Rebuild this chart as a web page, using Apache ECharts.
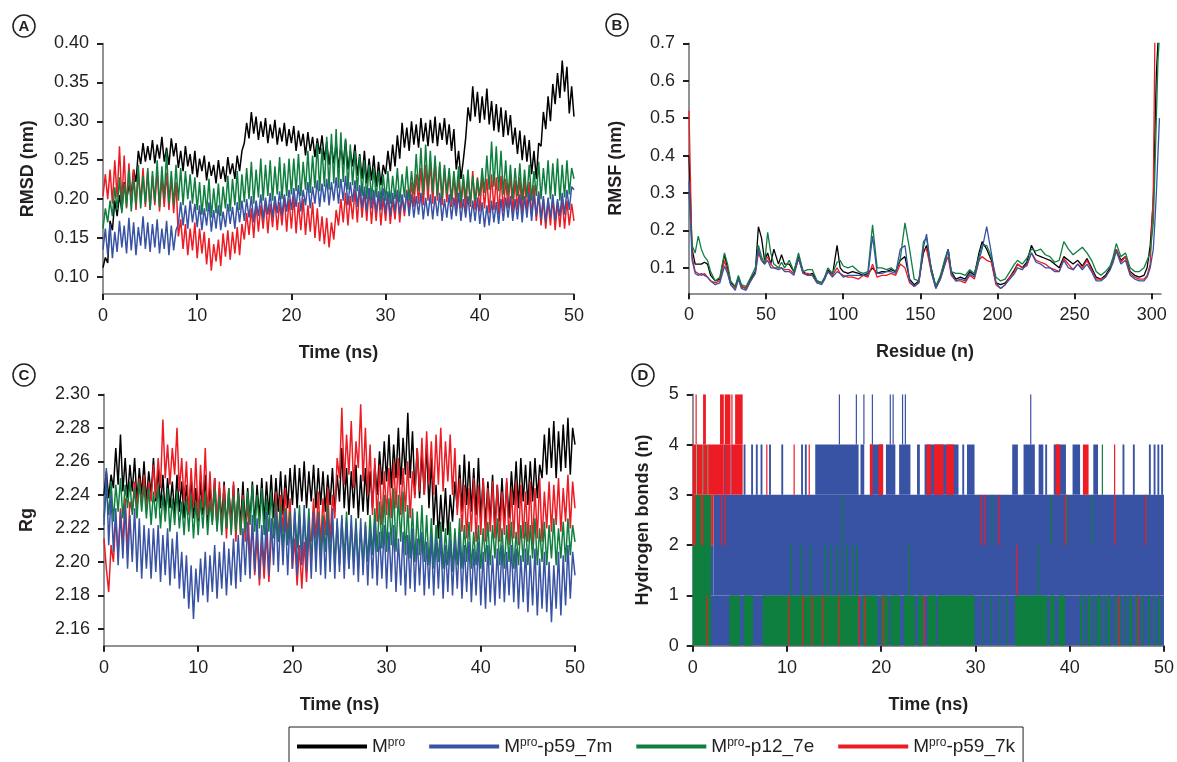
<!DOCTYPE html>
<html>
<head>
<meta charset="utf-8">
<title>Mpro MD analysis</title>
<script src="https://cdn.jsdelivr.net/npm/echarts@6.0.0/dist/echarts.min.js"></script>
<style>
  html, body { margin: 0; padding: 0; background: #fff; }
  #chart { width: 1177px; height: 762px; }
</style>
</head>
<body>
<div id="chart"></div>
<script>
// series names and colours
const names = ['Mpro', 'Mpro-p59_7m', 'Mpro-p12_7e', 'Mpro-p59_7k'];
const colors = ['#000000', '#3953a4', '#0f7f3f', '#ed1c24'];

// tick labels
const timeTicks = [0, 10, 20, 30, 40, 50];
const rmsdTicks = [0.10, 0.15, 0.20, 0.25, 0.30, 0.35, 0.40];
const rmsfTicks = [0.1, 0.2, 0.3, 0.4, 0.5, 0.6, 0.7];
const residueTicks = [0, 50, 100, 150, 200, 250, 300];
const rgTicks = [2.16, 2.18, 2.20, 2.22, 2.24, 2.26, 2.28, 2.30];
const hbTicks = [0, 1, 2, 3, 4, 5];

// sample times (ns) for RMSD and Rg
const timeNs = [
  0, 0.25, 0.5, 0.75, 1, 1.25, 1.5, 1.75, 2, 2.25, 2.5, 2.75, 3, 3.25, 3.5, 3.75, 4, 4.25, 4.5, 4.75,
  5, 5.25, 5.5, 5.75, 6, 6.25, 6.5, 6.75, 7, 7.25, 7.5, 7.75, 8, 8.25, 8.5, 8.75, 9, 9.25, 9.5, 9.75,
  10, 10.25, 10.5, 10.75, 11, 11.25, 11.5, 11.75, 12, 12.25, 12.5, 12.75, 13, 13.25, 13.5, 13.75, 14, 14.25, 14.5, 14.75,
  15, 15.25, 15.5, 15.75, 16, 16.25, 16.5, 16.75, 17, 17.25, 17.5, 17.75, 18, 18.25, 18.5, 18.75, 19, 19.25, 19.5, 19.75,
  20, 20.25, 20.5, 20.75, 21, 21.25, 21.5, 21.75, 22, 22.25, 22.5, 22.75, 23, 23.25, 23.5, 23.75, 24, 24.25, 24.5, 24.75,
  25, 25.25, 25.5, 25.75, 26, 26.25, 26.5, 26.75, 27, 27.25, 27.5, 27.75, 28, 28.25, 28.5, 28.75, 29, 29.25, 29.5, 29.75,
  30, 30.25, 30.5, 30.75, 31, 31.25, 31.5, 31.75, 32, 32.25, 32.5, 32.75, 33, 33.25, 33.5, 33.75, 34, 34.25, 34.5, 34.75,
  35, 35.25, 35.5, 35.75, 36, 36.25, 36.5, 36.75, 37, 37.25, 37.5, 37.75, 38, 38.25, 38.5, 38.75, 39, 39.25, 39.5, 39.75,
  40, 40.25, 40.5, 40.75, 41, 41.25, 41.5, 41.75, 42, 42.25, 42.5, 42.75, 43, 43.25, 43.5, 43.75, 44, 44.25, 44.5, 44.75,
  45, 45.25, 45.5, 45.75, 46, 46.25, 46.5, 46.75, 47, 47.25, 47.5, 47.75, 48, 48.25, 48.5, 48.75, 49, 49.25, 49.5, 49.75,
  50
];

// (A) RMSD, nm
const rmsdMpro = [
  0.112, 0.125, 0.118, 0.172, 0.160, 0.198, 0.178, 0.205, 0.185, 0.222, 0.198, 0.218, 0.205, 0.238, 0.222, 0.262, 0.245, 0.272, 0.248, 0.268,
  0.250, 0.276, 0.246, 0.270, 0.252, 0.280, 0.248, 0.266, 0.244, 0.278, 0.255, 0.272, 0.240, 0.262, 0.236, 0.268, 0.242, 0.258, 0.232, 0.262,
  0.228, 0.252, 0.236, 0.256, 0.224, 0.248, 0.230, 0.244, 0.220, 0.250, 0.226, 0.242, 0.222, 0.254, 0.232, 0.246, 0.226, 0.256, 0.236, 0.262,
  0.272, 0.298, 0.278, 0.312, 0.284, 0.306, 0.276, 0.300, 0.280, 0.304, 0.272, 0.296, 0.278, 0.302, 0.270, 0.292, 0.274, 0.298, 0.268, 0.290,
  0.272, 0.294, 0.262, 0.288, 0.268, 0.284, 0.256, 0.286, 0.262, 0.280, 0.254, 0.278, 0.258, 0.282, 0.250, 0.274, 0.244, 0.270, 0.246, 0.272,
  0.240, 0.268, 0.244, 0.276, 0.238, 0.262, 0.242, 0.270, 0.230, 0.258, 0.226, 0.262, 0.220, 0.252, 0.224, 0.256, 0.216, 0.248, 0.218, 0.244,
  0.232, 0.262, 0.236, 0.270, 0.242, 0.282, 0.252, 0.298, 0.266, 0.292, 0.262, 0.300, 0.270, 0.296, 0.266, 0.304, 0.274, 0.298, 0.268, 0.302,
  0.272, 0.306, 0.268, 0.298, 0.276, 0.304, 0.270, 0.296, 0.262, 0.290, 0.238, 0.262, 0.226, 0.250, 0.278, 0.318, 0.300, 0.345, 0.306, 0.338,
  0.298, 0.332, 0.302, 0.342, 0.296, 0.326, 0.288, 0.322, 0.286, 0.318, 0.280, 0.314, 0.282, 0.308, 0.270, 0.292, 0.258, 0.288, 0.250, 0.282,
  0.248, 0.276, 0.232, 0.262, 0.226, 0.272, 0.268, 0.312, 0.290, 0.332, 0.300, 0.348, 0.322, 0.362, 0.330, 0.378, 0.338, 0.370, 0.310, 0.345,
  0.306
];
const rmsdP59m = [
  0.135, 0.162, 0.128, 0.168, 0.124, 0.158, 0.132, 0.172, 0.138, 0.166, 0.130, 0.176, 0.134, 0.170, 0.128, 0.164, 0.140, 0.178, 0.136, 0.170,
  0.132, 0.168, 0.138, 0.174, 0.130, 0.162, 0.136, 0.172, 0.128, 0.166, 0.134, 0.160, 0.168, 0.196, 0.166, 0.192, 0.162, 0.198, 0.170, 0.194,
  0.164, 0.192, 0.160, 0.188, 0.166, 0.196, 0.158, 0.186, 0.162, 0.192, 0.160, 0.184, 0.164, 0.194, 0.168, 0.190, 0.162, 0.196, 0.170, 0.198,
  0.172, 0.200, 0.176, 0.204, 0.170, 0.198, 0.178, 0.206, 0.174, 0.202, 0.180, 0.208, 0.176, 0.204, 0.182, 0.210, 0.178, 0.206, 0.184, 0.212,
  0.186, 0.214, 0.190, 0.218, 0.184, 0.212, 0.192, 0.222, 0.188, 0.216, 0.194, 0.224, 0.190, 0.220, 0.196, 0.226, 0.192, 0.222, 0.198, 0.228,
  0.194, 0.226, 0.198, 0.230, 0.192, 0.222, 0.196, 0.224, 0.190, 0.218, 0.188, 0.216, 0.184, 0.214, 0.188, 0.212, 0.182, 0.210, 0.186, 0.214,
  0.182, 0.210, 0.178, 0.208, 0.184, 0.212, 0.180, 0.206, 0.184, 0.210, 0.178, 0.206, 0.176, 0.204, 0.180, 0.208, 0.174, 0.202, 0.178, 0.206,
  0.174, 0.204, 0.178, 0.208, 0.172, 0.200, 0.176, 0.206, 0.174, 0.202, 0.178, 0.208, 0.172, 0.200, 0.176, 0.204, 0.170, 0.198, 0.172, 0.202,
  0.168, 0.196, 0.164, 0.192, 0.166, 0.198, 0.170, 0.196, 0.168, 0.200, 0.172, 0.202, 0.176, 0.204, 0.172, 0.200, 0.174, 0.206, 0.170, 0.204,
  0.176, 0.208, 0.172, 0.206, 0.178, 0.210, 0.174, 0.204, 0.170, 0.202, 0.176, 0.206, 0.172, 0.200, 0.178, 0.208, 0.180, 0.212, 0.186, 0.216,
  0.212
];
const rmsdP12e = [
  0.162, 0.188, 0.170, 0.198, 0.178, 0.215, 0.186, 0.228, 0.182, 0.220, 0.190, 0.238, 0.184, 0.226, 0.192, 0.244, 0.188, 0.230, 0.194, 0.240,
  0.186, 0.236, 0.196, 0.250, 0.190, 0.242, 0.200, 0.262, 0.194, 0.236, 0.192, 0.244, 0.198, 0.240, 0.192, 0.236, 0.200, 0.232, 0.194, 0.228,
  0.186, 0.222, 0.180, 0.218, 0.184, 0.226, 0.176, 0.214, 0.182, 0.220, 0.178, 0.216, 0.188, 0.230, 0.184, 0.226, 0.192, 0.236, 0.186, 0.232,
  0.196, 0.240, 0.200, 0.248, 0.194, 0.238, 0.202, 0.252, 0.198, 0.244, 0.204, 0.250, 0.198, 0.242, 0.206, 0.254, 0.200, 0.246, 0.204, 0.252,
  0.206, 0.252, 0.210, 0.258, 0.204, 0.248, 0.212, 0.262, 0.208, 0.256, 0.214, 0.272, 0.210, 0.266, 0.216, 0.280, 0.212, 0.284, 0.220, 0.290,
  0.214, 0.286, 0.222, 0.278, 0.212, 0.270, 0.218, 0.262, 0.210, 0.256, 0.204, 0.250, 0.200, 0.244, 0.198, 0.240, 0.202, 0.236, 0.196, 0.232,
  0.198, 0.236, 0.194, 0.230, 0.200, 0.240, 0.196, 0.232, 0.202, 0.242, 0.198, 0.236, 0.206, 0.258, 0.210, 0.266, 0.206, 0.270, 0.212, 0.262,
  0.208, 0.256, 0.204, 0.248, 0.200, 0.244, 0.206, 0.240, 0.198, 0.236, 0.202, 0.242, 0.196, 0.232, 0.200, 0.238, 0.194, 0.230, 0.198, 0.226,
  0.204, 0.240, 0.208, 0.256, 0.212, 0.274, 0.216, 0.268, 0.210, 0.262, 0.206, 0.250, 0.204, 0.244, 0.200, 0.240, 0.204, 0.246, 0.198, 0.238,
  0.202, 0.244, 0.198, 0.236, 0.204, 0.248, 0.200, 0.240, 0.206, 0.250, 0.200, 0.246, 0.204, 0.252, 0.198, 0.244, 0.202, 0.250, 0.206, 0.240,
  0.226
];
const rmsdP59k = [
  0.204, 0.232, 0.200, 0.238, 0.194, 0.250, 0.202, 0.268, 0.196, 0.256, 0.188, 0.246, 0.194, 0.238, 0.186, 0.234, 0.196, 0.240, 0.190, 0.236,
  0.186, 0.230, 0.192, 0.238, 0.184, 0.226, 0.190, 0.234, 0.186, 0.228, 0.182, 0.222, 0.152, 0.174, 0.136, 0.168, 0.128, 0.162, 0.134, 0.170,
  0.124, 0.162, 0.130, 0.158, 0.116, 0.150, 0.108, 0.142, 0.120, 0.148, 0.114, 0.156, 0.126, 0.160, 0.122, 0.158, 0.130, 0.164, 0.128, 0.168,
  0.148, 0.182, 0.154, 0.188, 0.150, 0.194, 0.158, 0.192, 0.162, 0.198, 0.156, 0.194, 0.164, 0.200, 0.160, 0.196, 0.166, 0.204, 0.158, 0.200,
  0.162, 0.204, 0.156, 0.196, 0.160, 0.200, 0.154, 0.192, 0.158, 0.196, 0.150, 0.188, 0.146, 0.178, 0.142, 0.176, 0.138, 0.170, 0.148, 0.186,
  0.166, 0.200, 0.170, 0.208, 0.166, 0.204, 0.174, 0.212, 0.170, 0.216, 0.176, 0.210, 0.172, 0.214, 0.168, 0.206, 0.172, 0.210, 0.166, 0.202,
  0.172, 0.206, 0.168, 0.200, 0.174, 0.210, 0.170, 0.204, 0.178, 0.212, 0.184, 0.222, 0.190, 0.232, 0.194, 0.240, 0.192, 0.244, 0.198, 0.248,
  0.194, 0.250, 0.198, 0.244, 0.192, 0.240, 0.196, 0.236, 0.190, 0.232, 0.186, 0.230, 0.188, 0.226, 0.184, 0.232, 0.190, 0.236, 0.186, 0.228,
  0.184, 0.230, 0.188, 0.226, 0.182, 0.232, 0.186, 0.228, 0.180, 0.230, 0.184, 0.226, 0.188, 0.232, 0.182, 0.224, 0.186, 0.228, 0.180, 0.226,
  0.184, 0.222, 0.178, 0.218, 0.172, 0.208, 0.166, 0.200, 0.162, 0.198, 0.166, 0.202, 0.160, 0.196, 0.164, 0.200, 0.162, 0.198, 0.166, 0.194,
  0.172
];

// (B) RMSF per residue, nm
const residues = [
  0, 2, 4, 6, 8, 10, 12, 14, 17, 20,
  23, 25, 27, 30, 32, 34, 37, 40, 43, 45,
  47, 49, 51, 53, 55, 58, 60, 62, 65, 68,
  71, 74, 77, 80, 83, 86, 88, 90, 93, 96,
  98, 100, 103, 106, 110, 113, 116, 119, 122, 125,
  128, 131, 134, 137, 140, 143, 146, 149, 152, 154,
  157, 160, 163, 166, 168, 170, 173, 176, 179, 182,
  185, 188, 190, 193, 196, 199, 202, 205, 208, 211,
  213, 216, 219, 222, 225, 228, 231, 234, 237, 240,
  243, 246, 249, 252, 255, 258, 261, 264, 267, 270,
  273, 275, 277, 280, 283, 286, 289, 292, 295, 297,
  299, 301, 302, 303, 304, 305
];
const rmsfMpro = [
  0.40, 0.15, 0.11, 0.11, 0.11, 0.115, 0.11, 0.08, 0.065, 0.07,
  0.135, 0.10, 0.06, 0.05, 0.075, 0.05, 0.045, 0.07, 0.09, 0.21,
  0.18, 0.12, 0.14, 0.11, 0.15, 0.11, 0.135, 0.11, 0.11, 0.09,
  0.13, 0.09, 0.08, 0.085, 0.065, 0.06, 0.075, 0.095, 0.08, 0.16,
  0.10, 0.09, 0.085, 0.09, 0.085, 0.08, 0.085, 0.10, 0.085, 0.09,
  0.09, 0.095, 0.09, 0.12, 0.13, 0.07, 0.055, 0.065, 0.14, 0.16,
  0.10, 0.05, 0.075, 0.12, 0.15, 0.09, 0.07, 0.075, 0.07, 0.09,
  0.08, 0.14, 0.17, 0.15, 0.12, 0.06, 0.055, 0.06, 0.075, 0.095,
  0.11, 0.10, 0.115, 0.16, 0.135, 0.13, 0.125, 0.12, 0.11, 0.10,
  0.13, 0.12, 0.11, 0.12, 0.105, 0.125, 0.10, 0.075, 0.07, 0.08,
  0.10, 0.12, 0.15, 0.12, 0.13, 0.09, 0.08, 0.075, 0.08, 0.10,
  0.16, 0.28, 0.45, 0.62, 0.70, 0.72
];
const rmsfP59m = [
  0.33, 0.12, 0.085, 0.08, 0.085, 0.08, 0.075, 0.065, 0.055, 0.06,
  0.105, 0.085, 0.055, 0.04, 0.07, 0.045, 0.04, 0.065, 0.085, 0.15,
  0.12, 0.11, 0.12, 0.10, 0.10, 0.095, 0.10, 0.09, 0.09, 0.08,
  0.125, 0.085, 0.08, 0.08, 0.06, 0.055, 0.07, 0.09, 0.075, 0.09,
  0.085, 0.075, 0.08, 0.08, 0.08, 0.08, 0.08, 0.185, 0.085, 0.085,
  0.09, 0.09, 0.085, 0.15, 0.16, 0.065, 0.05, 0.06, 0.155, 0.19,
  0.09, 0.045, 0.07, 0.11, 0.15, 0.085, 0.065, 0.07, 0.065, 0.085,
  0.075, 0.12, 0.15, 0.21, 0.14, 0.06, 0.045, 0.055, 0.07, 0.085,
  0.10, 0.095, 0.11, 0.14, 0.115, 0.11, 0.10, 0.10, 0.09, 0.09,
  0.12, 0.10, 0.095, 0.11, 0.095, 0.11, 0.09, 0.065, 0.065, 0.075,
  0.095, 0.115, 0.145, 0.11, 0.12, 0.08, 0.07, 0.065, 0.065, 0.075,
  0.10, 0.15, 0.22, 0.30, 0.40, 0.50
];
const rmsfP12e = [
  0.30, 0.16, 0.14, 0.185, 0.15, 0.13, 0.12, 0.09, 0.065, 0.075,
  0.14, 0.11, 0.065, 0.05, 0.08, 0.055, 0.05, 0.075, 0.10, 0.16,
  0.13, 0.11, 0.195, 0.14, 0.11, 0.10, 0.115, 0.10, 0.12, 0.09,
  0.14, 0.09, 0.095, 0.095, 0.065, 0.06, 0.075, 0.10, 0.085, 0.115,
  0.12, 0.105, 0.10, 0.105, 0.09, 0.085, 0.09, 0.215, 0.10, 0.10,
  0.095, 0.10, 0.09, 0.125, 0.22, 0.15, 0.07, 0.065, 0.17, 0.18,
  0.10, 0.05, 0.08, 0.125, 0.15, 0.09, 0.085, 0.085, 0.08, 0.095,
  0.085, 0.13, 0.16, 0.16, 0.13, 0.075, 0.065, 0.07, 0.09, 0.11,
  0.12, 0.11, 0.125, 0.15, 0.145, 0.15, 0.135, 0.13, 0.115, 0.12,
  0.17, 0.15, 0.135, 0.145, 0.155, 0.14, 0.12, 0.09, 0.08, 0.09,
  0.105, 0.13, 0.165, 0.13, 0.14, 0.10, 0.09, 0.09, 0.10, 0.12,
  0.14, 0.22, 0.35, 0.50, 0.65, 0.72
];
const rmsfP59k = [
  0.52, 0.13, 0.09, 0.085, 0.08, 0.085, 0.075, 0.065, 0.06, 0.065,
  0.12, 0.09, 0.055, 0.045, 0.07, 0.05, 0.045, 0.065, 0.085, 0.14,
  0.12, 0.11, 0.13, 0.11, 0.10, 0.10, 0.10, 0.095, 0.095, 0.085,
  0.125, 0.085, 0.085, 0.08, 0.06, 0.06, 0.07, 0.09, 0.08, 0.10,
  0.085, 0.08, 0.075, 0.075, 0.07, 0.08, 0.075, 0.11, 0.075, 0.08,
  0.08, 0.085, 0.08, 0.11, 0.10, 0.06, 0.05, 0.06, 0.15, 0.15,
  0.09, 0.045, 0.07, 0.11, 0.13, 0.08, 0.065, 0.065, 0.06, 0.08,
  0.07, 0.12, 0.13, 0.12, 0.115, 0.055, 0.045, 0.055, 0.075, 0.09,
  0.11, 0.10, 0.105, 0.14, 0.12, 0.115, 0.11, 0.10, 0.095, 0.09,
  0.125, 0.11, 0.095, 0.11, 0.10, 0.12, 0.095, 0.07, 0.07, 0.075,
  0.095, 0.12, 0.15, 0.115, 0.13, 0.085, 0.075, 0.07, 0.07, 0.08,
  0.11, 0.30, 0.70, 0.75, 0.75, 0.75
];

// (C) radius of gyration, nm
const rgMpro = [
  2.240, 2.254, 2.238, 2.252, 2.244, 2.268, 2.246, 2.276, 2.242, 2.262, 2.238, 2.258, 2.242, 2.262, 2.236, 2.256, 2.240, 2.260, 2.236, 2.254,
  2.240, 2.262, 2.236, 2.256, 2.232, 2.252, 2.228, 2.250, 2.232, 2.248, 2.228, 2.252, 2.230, 2.248, 2.226, 2.246, 2.230, 2.250, 2.226, 2.244,
  2.224, 2.248, 2.228, 2.252, 2.222, 2.246, 2.226, 2.250, 2.220, 2.244, 2.224, 2.248, 2.220, 2.242, 2.224, 2.246, 2.218, 2.244, 2.222, 2.248,
  2.220, 2.244, 2.224, 2.248, 2.222, 2.246, 2.226, 2.250, 2.224, 2.248, 2.228, 2.252, 2.226, 2.250, 2.230, 2.254, 2.228, 2.252, 2.232, 2.256,
  2.234, 2.258, 2.232, 2.256, 2.236, 2.260, 2.232, 2.254, 2.236, 2.258, 2.232, 2.256, 2.234, 2.254, 2.230, 2.252, 2.234, 2.256, 2.230, 2.252,
  2.236, 2.268, 2.232, 2.256, 2.228, 2.254, 2.232, 2.258, 2.226, 2.252, 2.230, 2.256, 2.228, 2.254, 2.232, 2.258, 2.240, 2.266, 2.246, 2.272,
  2.248, 2.276, 2.244, 2.270, 2.250, 2.280, 2.246, 2.274, 2.252, 2.289, 2.250, 2.278, 2.240, 2.268, 2.238, 2.266, 2.240, 2.270, 2.232, 2.262,
  2.222, 2.246, 2.214, 2.240, 2.218, 2.244, 2.216, 2.240, 2.224, 2.248, 2.232, 2.258, 2.230, 2.264, 2.234, 2.260, 2.230, 2.256, 2.228, 2.262,
  2.226, 2.250, 2.222, 2.248, 2.224, 2.252, 2.220, 2.246, 2.224, 2.250, 2.222, 2.248, 2.226, 2.254, 2.234, 2.260, 2.232, 2.262, 2.236, 2.258,
  2.234, 2.260, 2.236, 2.262, 2.238, 2.258, 2.250, 2.276, 2.252, 2.280, 2.256, 2.284, 2.250, 2.278, 2.254, 2.282, 2.256, 2.286, 2.252, 2.280,
  2.270
];
const rgP59m = [
  2.222, 2.256, 2.210, 2.240, 2.206, 2.232, 2.198, 2.230, 2.202, 2.234, 2.196, 2.228, 2.200, 2.232, 2.194, 2.226, 2.190, 2.222, 2.196, 2.220,
  2.190, 2.220, 2.194, 2.222, 2.188, 2.216, 2.192, 2.220, 2.186, 2.214, 2.190, 2.218, 2.184, 2.206, 2.178, 2.204, 2.172, 2.198, 2.166, 2.196,
  2.176, 2.202, 2.180, 2.206, 2.176, 2.204, 2.182, 2.210, 2.178, 2.206, 2.184, 2.212, 2.180, 2.208, 2.186, 2.214, 2.184, 2.216, 2.188, 2.220,
  2.192, 2.224, 2.190, 2.228, 2.194, 2.226, 2.190, 2.222, 2.196, 2.230, 2.192, 2.226, 2.198, 2.232, 2.194, 2.228, 2.198, 2.230, 2.192, 2.226,
  2.196, 2.232, 2.192, 2.228, 2.198, 2.234, 2.194, 2.226, 2.190, 2.230, 2.194, 2.228, 2.192, 2.224, 2.190, 2.228, 2.194, 2.232, 2.190, 2.226,
  2.194, 2.228, 2.190, 2.224, 2.196, 2.228, 2.192, 2.222, 2.188, 2.226, 2.192, 2.222, 2.186, 2.220, 2.190, 2.224, 2.186, 2.218, 2.190, 2.222,
  2.184, 2.218, 2.188, 2.222, 2.182, 2.214, 2.186, 2.218, 2.180, 2.216, 2.184, 2.220, 2.182, 2.214, 2.186, 2.218, 2.180, 2.212, 2.184, 2.216,
  2.180, 2.214, 2.184, 2.216, 2.178, 2.210, 2.182, 2.214, 2.180, 2.212, 2.184, 2.216, 2.178, 2.210, 2.182, 2.212, 2.176, 2.208, 2.180, 2.212,
  2.174, 2.206, 2.172, 2.210, 2.176, 2.204, 2.174, 2.208, 2.178, 2.210, 2.176, 2.206, 2.180, 2.210, 2.176, 2.208, 2.172, 2.204, 2.176, 2.208,
  2.170, 2.204, 2.174, 2.208, 2.168, 2.202, 2.172, 2.206, 2.170, 2.200, 2.164, 2.198, 2.172, 2.206, 2.168, 2.204, 2.174, 2.210, 2.178, 2.206,
  2.192
];
const rgP12e = [
  2.226, 2.244, 2.228, 2.248, 2.224, 2.246, 2.230, 2.250, 2.226, 2.246, 2.232, 2.248, 2.228, 2.244, 2.226, 2.248, 2.230, 2.246, 2.226, 2.244,
  2.222, 2.242, 2.226, 2.246, 2.220, 2.240, 2.224, 2.244, 2.218, 2.238, 2.222, 2.242, 2.220, 2.236, 2.216, 2.238, 2.218, 2.240, 2.214, 2.236,
  2.216, 2.238, 2.220, 2.242, 2.216, 2.236, 2.222, 2.244, 2.218, 2.240, 2.216, 2.238, 2.220, 2.244, 2.216, 2.240, 2.218, 2.242, 2.216, 2.238,
  2.218, 2.242, 2.222, 2.246, 2.218, 2.240, 2.220, 2.244, 2.216, 2.238, 2.218, 2.242, 2.214, 2.236, 2.212, 2.234, 2.208, 2.232, 2.210, 2.230,
  2.204, 2.230, 2.208, 2.234, 2.202, 2.228, 2.206, 2.232, 2.200, 2.226, 2.204, 2.230, 2.202, 2.228, 2.206, 2.234, 2.200, 2.226, 2.198, 2.224,
  2.198, 2.226, 2.202, 2.230, 2.196, 2.222, 2.200, 2.226, 2.196, 2.220, 2.198, 2.224, 2.200, 2.228, 2.204, 2.232, 2.206, 2.236, 2.208, 2.240,
  2.206, 2.238, 2.210, 2.244, 2.206, 2.240, 2.212, 2.242, 2.204, 2.234, 2.202, 2.232, 2.200, 2.230, 2.204, 2.234, 2.200, 2.228, 2.198, 2.226,
  2.196, 2.222, 2.200, 2.224, 2.196, 2.220, 2.198, 2.224, 2.194, 2.220, 2.198, 2.226, 2.196, 2.222, 2.200, 2.224, 2.196, 2.218, 2.198, 2.222,
  2.196, 2.220, 2.200, 2.224, 2.198, 2.222, 2.202, 2.226, 2.198, 2.220, 2.196, 2.222, 2.200, 2.224, 2.196, 2.218, 2.198, 2.222, 2.200, 2.224,
  2.198, 2.222, 2.202, 2.226, 2.198, 2.220, 2.200, 2.224, 2.198, 2.222, 2.202, 2.226, 2.198, 2.220, 2.202, 2.224, 2.200, 2.226, 2.204, 2.222,
  2.212
];
const rgP59k = [
  2.214, 2.196, 2.182, 2.210, 2.200, 2.226, 2.204, 2.232, 2.210, 2.238, 2.206, 2.236, 2.230, 2.248, 2.232, 2.250, 2.234, 2.252, 2.230, 2.248,
  2.236, 2.258, 2.238, 2.262, 2.244, 2.285, 2.250, 2.270, 2.246, 2.268, 2.252, 2.280, 2.242, 2.262, 2.236, 2.260, 2.228, 2.256, 2.232, 2.262,
  2.226, 2.258, 2.232, 2.268, 2.228, 2.254, 2.224, 2.250, 2.222, 2.248, 2.218, 2.246, 2.214, 2.244, 2.218, 2.248, 2.212, 2.242, 2.216, 2.240,
  2.212, 2.238, 2.200, 2.222, 2.192, 2.216, 2.186, 2.212, 2.190, 2.218, 2.188, 2.214, 2.216, 2.242, 2.212, 2.240, 2.218, 2.244, 2.214, 2.238,
  2.196, 2.214, 2.186, 2.210, 2.184, 2.212, 2.188, 2.216, 2.212, 2.238, 2.214, 2.242, 2.210, 2.238, 2.216, 2.244, 2.212, 2.240, 2.226, 2.262,
  2.250, 2.292, 2.246, 2.276, 2.252, 2.284, 2.244, 2.272, 2.256, 2.294, 2.248, 2.280, 2.240, 2.270, 2.228, 2.262, 2.224, 2.258, 2.222, 2.254,
  2.228, 2.256, 2.226, 2.260, 2.232, 2.262, 2.228, 2.256, 2.230, 2.260, 2.226, 2.254, 2.238, 2.268, 2.242, 2.274, 2.240, 2.278, 2.246, 2.272,
  2.240, 2.276, 2.246, 2.280, 2.242, 2.272, 2.248, 2.276, 2.240, 2.268, 2.228, 2.250, 2.218, 2.246, 2.214, 2.244, 2.218, 2.250, 2.212, 2.246,
  2.216, 2.250, 2.212, 2.244, 2.218, 2.248, 2.214, 2.246, 2.212, 2.242, 2.216, 2.250, 2.210, 2.244, 2.214, 2.248, 2.210, 2.246, 2.214, 2.242,
  2.212, 2.248, 2.210, 2.244, 2.214, 2.250, 2.212, 2.242, 2.220, 2.248, 2.218, 2.246, 2.222, 2.250, 2.218, 2.244, 2.224, 2.252, 2.220, 2.248,
  2.232
];

// (D) hydrogen bonds: [from ns, to ns, low count, high count] spans the count flickers over
const hbP59m = [
  [1.9, 2.2, 1, 2], [2.2, 50, 1, 3], [1.9, 50, 0, 1],
  [3.3, 3.4, 3, 4], [4.0, 4.1, 3, 4], [5.4, 5.6, 3, 4], [6.2, 6.4, 3, 4], [6.7, 6.9, 3, 4],
  [7.2, 7.4, 3, 4], [8.1, 8.3, 3, 4], [9.4, 9.6, 3, 4], [11.5, 11.7, 3, 4], [11.9, 12.1, 3, 4],
  [13.0, 17.6, 3, 4], [17.8, 18.2, 3, 4], [18.8, 20.2, 3, 4], [20.5, 21.5, 3, 4], [21.9, 23.1, 3, 4],
  [23.8, 24.1, 3, 4], [24.6, 28.2, 3, 4], [28.6, 28.8, 3, 4], [29.1, 29.9, 3, 4],
  [33.9, 34.5, 3, 4], [35.1, 36.3, 3, 4], [36.7, 37.2, 3, 4], [37.4, 37.6, 3, 4], [38.3, 39.6, 3, 4],
  [40.3, 41.1, 3, 4], [42.5, 43.0, 3, 4], [45.6, 45.8, 3, 4], [46.7, 46.9, 3, 4], [48.4, 48.6, 3, 4],
  [48.9, 49.1, 3, 4], [49.3, 49.5, 3, 4], [49.7, 49.9, 3, 4],
  [15.5, 15.55, 4, 5], [17.3, 17.35, 4, 5], [18.1, 18.15, 4, 5], [19.0, 19.05, 4, 5], [20.9, 21.0, 4, 5],
  [21.2, 21.3, 4, 5], [22.2, 22.25, 4, 5], [22.5, 22.6, 4, 5], [35.8, 35.85, 4, 5]
];
const hbP12e = [
  [0, 1.95, 0, 3], [0.4, 0.45, 3, 4], [1.05, 1.1, 3, 4], [1.55, 1.65, 3, 4],
  [3.9, 5.0, 0, 1], [5.4, 6.4, 0, 1], [7.4, 17.6, 0, 1], [18.0, 19.6, 0, 1], [20.0, 20.8, 0, 1],
  [21.0, 22.0, 0, 1], [22.4, 23.6, 0, 1], [23.9, 24.5, 0, 1], [24.9, 25.8, 0, 1], [26.0, 29.9, 0, 1],
  [30.7, 30.8, 0, 1], [31.6, 31.7, 0, 1], [32.5, 32.6, 0, 1], [33.3, 33.4, 0, 1],
  [34.2, 37.6, 0, 1], [37.9, 38.4, 0, 1], [38.8, 39.5, 0, 1],
  [41.1, 41.3, 0, 1], [41.5, 41.6, 0, 1], [41.9, 42.2, 0, 1], [42.5, 42.6, 0, 1], [42.9, 43.3, 0, 1],
  [43.6, 43.7, 0, 1], [44.0, 44.3, 0, 1], [44.8, 45.0, 0, 1], [45.3, 45.4, 0, 1], [45.8, 45.9, 0, 1],
  [46.3, 46.6, 0, 1], [47.0, 47.2, 0, 1], [47.6, 47.8, 0, 1], [48.3, 48.5, 0, 1], [48.9, 49.0, 0, 1],
  [49.4, 49.6, 0, 1],
  [10.4, 10.45, 1, 2], [11.4, 11.45, 1, 2], [12.4, 12.45, 1, 2], [14.0, 14.05, 1, 2], [14.6, 14.7, 1, 2],
  [15.3, 15.35, 1, 2], [15.8, 15.85, 1, 2], [16.3, 16.35, 1, 2], [16.9, 16.95, 1, 2], [17.4, 17.45, 1, 2],
  [22.9, 22.95, 1, 2], [36.6, 36.65, 1, 2],
  [15.8, 15.83, 2, 3], [31.7, 31.73, 2, 3], [37.9, 37.93, 2, 3], [39.6, 39.63, 2, 3], [42.3, 42.33, 2, 3],
  [43.4, 43.45, 3, 4]
];
const hbP59k = [
  [0.3, 0.4, 4, 5], [1.1, 1.4, 4, 5], [2.9, 3.3, 4, 5], [3.4, 4.0, 4, 5], [4.1, 4.2, 4, 5], [4.5, 5.3, 4, 5],
  [0, 0.35, 3, 4], [0.45, 1.05, 3, 4], [1.15, 1.55, 3, 4], [1.65, 3.3, 3, 4], [3.4, 4.0, 3, 4], [4.1, 5.3, 3, 4],
  [0, 0.3, 2, 3], [0.9, 1.1, 2, 3], [1.95, 2.2, 2, 3], [3.0, 3.05, 2, 3], [3.4, 3.45, 2, 3],
  [7.8, 7.85, 3, 4], [10.7, 10.75, 3, 4], [12.3, 12.35, 3, 4], [18.8, 19.1, 3, 4], [19.7, 20.2, 3, 4],
  [24.8, 25.3, 3, 4], [25.6, 26.6, 3, 4], [26.9, 27.7, 3, 4], [38.5, 39.0, 3, 4], [41.4, 42.0, 3, 4],
  [44.7, 44.8, 3, 4],
  [30.5, 30.55, 2, 3], [30.9, 30.95, 2, 3], [32.4, 32.45, 2, 3], [39.5, 39.55, 2, 3], [44.7, 44.75, 2, 3],
  [48.0, 48.05, 2, 3], [34.3, 34.33, 1, 2],
  [1.5, 1.55, 0, 1], [10.1, 10.15, 0, 1], [11.6, 11.65, 0, 1], [12.6, 12.65, 0, 1], [13.7, 13.75, 0, 1],
  [15.4, 15.45, 0, 1], [17.6, 17.65, 0, 1], [18.2, 18.25, 0, 1], [20.2, 20.25, 0, 1], [24.5, 24.55, 0, 1],
  [45.1, 45.15, 0, 1], [47.2, 47.25, 0, 1]
];

const fontFamily = '"Liberation Sans", Arial, sans-serif';
const ink = '#231f20';

function makeAxis(o) {
  return {
    type: 'value',
    gridIndex: o.grid,
    min: o.min,
    max: o.max,
    name: o.name,
    nameLocation: 'middle',
    nameGap: o.gap,
    nameRotate: o.rotate || 0,
    nameTextStyle: { color: ink, fontSize: 18, fontWeight: 'bold', fontFamily },
    axisLine: { show: true, onZero: false, lineStyle: { color: '#6d6e71', width: 1.5 } },
    axisTick: { show: true, inside: false, length: 6, customValues: o.ticks, lineStyle: { color: ink, width: 2 } },
    axisLabel: {
      show: true, margin: o.margin, customValues: o.ticks, color: ink, fontSize: 18, fontFamily,
      formatter: v => (o.digits == null ? String(v) : Number(v).toFixed(o.digits)),
    },
    splitLine: { show: false },
  };
}

function lineSeries(idx, k, xs, ys, width) {
  return {
    type: 'line',
    name: names[k],
    xAxisIndex: idx,
    yAxisIndex: idx,
    data: xs.map((x, i) => [x, ys[i]]),
    symbol: 'none',
    showSymbol: false,
    clip: true,
    lineStyle: { color: colors[k], width: width },
    itemStyle: { color: colors[k] },
  };
}

function hbSeries(k, blocks) {
  return {
    type: 'custom',
    name: names[k],
    xAxisIndex: 3,
    yAxisIndex: 3,
    data: blocks,
    encode: { x: [0, 1], y: [2, 3] },
    clip: true,
    itemStyle: { color: colors[k] },
    renderItem: (params, api) => {
      const a = api.coord([api.value(0), api.value(3)]);
      const b = api.coord([api.value(1), api.value(2)]);
      return {
        type: 'rect',
        shape: { x: a[0], y: a[1], width: Math.max(b[0] - a[0], 1.2), height: b[1] - a[1] },
        style: { fill: colors[k] },
      };
    },
  };
}

const tags = [['A', 24, 26], ['B', 617, 25], ['C', 24, 375], ['D', 643, 375]];

const chart = echarts.init(document.getElementById('chart'));
chart.setOption({
  animation: false,
  backgroundColor: '#ffffff',
  grid: [
    { left: 103, top: 43.5, width: 471, height: 250.5 },
    { left: 689, top: 43.3, width: 472, height: 250 },
    { left: 104, top: 394.3, width: 471, height: 251.4 },
    { left: 692.7, top: 394.3, width: 471.6, height: 251.4 },
  ],
  xAxis: [
    makeAxis({ grid: 0, min: 0, max: 50, ticks: timeTicks, name: 'Time (ns)', gap: 50, margin: 13 }),
    makeAxis({ grid: 1, min: 0, max: 306, ticks: residueTicks, name: 'Residue (n)', gap: 50, margin: 13 }),
    makeAxis({ grid: 2, min: 0, max: 50, ticks: timeTicks, name: 'Time (ns)', gap: 50, margin: 13 }),
    makeAxis({ grid: 3, min: 0, max: 50, ticks: timeTicks, name: 'Time (ns)', gap: 50, margin: 13 }),
  ],
  yAxis: [
    makeAxis({ grid: 0, min: 0.078, max: 0.40, ticks: rmsdTicks, digits: 2, name: 'RMSD (nm)', gap: 66, rotate: 90, margin: 14 }),
    makeAxis({ grid: 1, min: 0.032, max: 0.7, ticks: rmsfTicks, digits: 1, name: 'RMSF (nm)', gap: 64, rotate: 90, margin: 14 }),
    makeAxis({ grid: 2, min: 2.15, max: 2.30, ticks: rgTicks, digits: 2, name: 'Rg', gap: 68, rotate: 90, margin: 14 }),
    makeAxis({ grid: 3, min: 0, max: 5, ticks: hbTicks, name: 'Hydrogen bonds (n)', gap: 41, rotate: 90, margin: 14 }),
  ],
  legend: {
    data: names,
    left: 289,
    top: 727,
    icon: 'rect',
    itemWidth: 70,
    itemHeight: 4,
    itemGap: 24,
    selectedMode: false,
    borderColor: ink,
    borderWidth: 1,
    padding: [10, 8, 30, 8],
    formatter: n => n.replace('Mpro', 'M{sup|pro}'),
    textStyle: {
      color: ink, fontSize: 19, fontFamily,
      rich: { sup: { fontSize: 12, verticalAlign: 'top', color: ink, fontFamily } },
    },
  },
  graphic: tags.flatMap(([t, x, y]) => [
    { type: 'circle', shape: { cx: x, cy: y, r: 11 }, style: { fill: '#fff', stroke: ink, lineWidth: 1.5 } },
    { type: 'text', x: x, y: y + 1, style: { text: t, align: 'center', verticalAlign: 'middle', font: 'bold 15px ' + fontFamily, fill: ink } },
  ]),
  series: [
    lineSeries(0, 0, timeNs, rmsdMpro, 1.5),
    lineSeries(0, 3, timeNs, rmsdP59k, 1.5),
    lineSeries(0, 2, timeNs, rmsdP12e, 1.5),
    lineSeries(0, 1, timeNs, rmsdP59m, 1.5),
    lineSeries(1, 0, residues, rmsfMpro, 1.3),
    lineSeries(1, 3, residues, rmsfP59k, 1.3),
    lineSeries(1, 2, residues, rmsfP12e, 1.3),
    lineSeries(1, 1, residues, rmsfP59m, 1.3),
    lineSeries(2, 0, timeNs, rgMpro, 1.5),
    lineSeries(2, 3, timeNs, rgP59k, 1.5),
    lineSeries(2, 2, timeNs, rgP12e, 1.5),
    lineSeries(2, 1, timeNs, rgP59m, 1.5),
    hbSeries(1, hbP59m),
    hbSeries(2, hbP12e),
    hbSeries(3, hbP59k),
  ],
});
window.addEventListener('resize', () => {
  chart.resize();
});
</script>
</body>
</html>
